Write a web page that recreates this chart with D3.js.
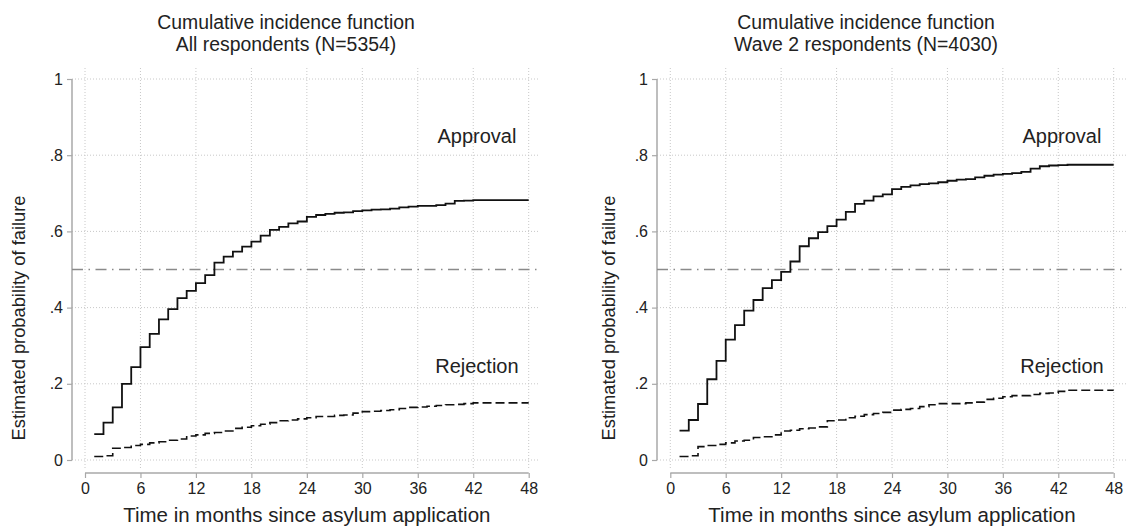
<!DOCTYPE html>
<html>
<head>
<meta charset="utf-8">
<script src="https://cdn.jsdelivr.net/npm/d3@7"></script>
<style>
  body { margin: 0; background: #fff; }
  svg text { font-family: "Liberation Sans", Arial, Helvetica, sans-serif; fill: #222; }
</style>
</head>
<body>
<svg id="chart" width="1127" height="527"></svg>
<script>
// months since application (steps)
const months = d3.range(1, 49);
const xTicks = [0, 6, 12, 18, 24, 30, 36, 42, 48];
const yTicks = [0, 0.2, 0.4, 0.6, 0.8, 1];
const yTickLabels = ["0", ".2", ".4", ".6", ".8", "1"];

// All respondents (N=5354)
const approvalAll = [0.068, 0.098, 0.138, 0.200, 0.244, 0.296, 0.331, 0.369, 0.396, 0.425,
  0.444, 0.464, 0.485, 0.518, 0.534, 0.547, 0.560, 0.573, 0.589, 0.604,
  0.612, 0.621, 0.626, 0.638, 0.643, 0.646, 0.649, 0.650, 0.653, 0.655,
  0.657, 0.658, 0.660, 0.663, 0.665, 0.667, 0.667, 0.669, 0.673, 0.680,
  0.681, 0.682, 0.682, 0.682, 0.682, 0.682, 0.682, 0.682];
const rejectionAll = [0.009, 0.011, 0.031, 0.033, 0.038, 0.041, 0.045, 0.048, 0.052, 0.055,
  0.063, 0.066, 0.070, 0.072, 0.076, 0.083, 0.086, 0.090, 0.094, 0.098,
  0.103, 0.105, 0.108, 0.111, 0.114, 0.114, 0.117, 0.118, 0.123, 0.127,
  0.128, 0.130, 0.132, 0.135, 0.138, 0.139, 0.141, 0.143, 0.145, 0.146,
  0.148, 0.150, 0.150, 0.150, 0.150, 0.150, 0.150, 0.150];

// Wave 2 respondents (N=4030)
const approvalW2 = [0.077, 0.105, 0.147, 0.212, 0.260, 0.316, 0.354, 0.392, 0.420, 0.451,
  0.472, 0.494, 0.521, 0.561, 0.582, 0.598, 0.614, 0.631, 0.651, 0.672,
  0.681, 0.692, 0.697, 0.711, 0.717, 0.721, 0.724, 0.726, 0.729, 0.733,
  0.736, 0.737, 0.742, 0.746, 0.749, 0.751, 0.753, 0.756, 0.765, 0.771,
  0.773, 0.774, 0.775, 0.775, 0.775, 0.775, 0.775, 0.775];
const rejectionW2 = [0.009, 0.011, 0.035, 0.038, 0.041, 0.045, 0.050, 0.052, 0.059, 0.061,
  0.066, 0.076, 0.078, 0.082, 0.084, 0.087, 0.103, 0.105, 0.111, 0.115,
  0.119, 0.122, 0.125, 0.131, 0.133, 0.135, 0.140, 0.145, 0.148, 0.148,
  0.148, 0.150, 0.152, 0.159, 0.162, 0.166, 0.169, 0.169, 0.172, 0.175,
  0.176, 0.180, 0.183, 0.183, 0.183, 0.183, 0.183, 0.183];

const svg = d3.select("#chart");

const panels = [
  {title: "Cumulative incidence function", sub: "All respondents (N=5354)",
   approval: approvalAll, rejection: rejectionAll,
   axisX: 72, x0: 85, x1: 528.7, right: 540, titleX: 286, yTitleX: 19},
  {title: "Cumulative incidence function", sub: "Wave 2 respondents (N=4030)",
   approval: approvalW2, rejection: rejectionW2,
   axisX: 657, x0: 670.3, x1: 1113.7, right: 1126, titleX: 866, yTitleX: 609}
];

panels.forEach(p => {
  const x = d3.scaleLinear().domain([0, 48]).range([p.x0, p.x1]);
  const y = d3.scaleLinear().domain([0, 1]).range([460, 79]);
  const g = svg.append("g");
  const axisY = 473;

  // grid
  g.selectAll(".vgrid").data(xTicks).join("line")
    .attr("x1", d => x(d)).attr("x2", d => x(d))
    .attr("y1", 68).attr("y2", 470)
    .attr("stroke", "#c8c8c8").attr("stroke-width", 1).attr("stroke-dasharray", "1,2");
  g.selectAll(".hgrid").data(yTicks).join("line")
    .attr("x1", p.axisX).attr("x2", p.right)
    .attr("y1", d => y(d)).attr("y2", d => y(d))
    .attr("stroke", "#c8c8c8").attr("stroke-width", 1).attr("stroke-dasharray", "1,2");

  // y axis
  const yAxis = d3.axisLeft(y).tickValues(yTicks)
    .tickFormat((d, i) => yTickLabels[i]).tickSize(5).tickPadding(4);
  const ya = g.append("g").attr("transform", `translate(${p.axisX},0)`).call(yAxis);
  ya.select(".domain").attr("d", `M0,${y(1)}V${y(0)}`);

  // x axis
  const xAxis = d3.axisBottom(x).tickValues(xTicks).tickSize(5).tickPadding(5);
  const xa = g.append("g").attr("transform", `translate(0,${axisY})`).call(xAxis);
  xa.select(".domain").attr("d", `M${x(0)},0H${x(48)}`);

  [ya, xa].forEach(a => {
    a.select(".domain").attr("stroke", "#a8a8a8").attr("stroke-width", 1.5);
    a.selectAll(".tick line").attr("stroke", "#a8a8a8").attr("stroke-width", 1.2);
    a.selectAll(".tick text").attr("font-size", 16).attr("fill", "#222")
      .attr("font-family", "Liberation Sans, Arial, sans-serif");
  });

  // 0.5 reference line
  g.append("line")
    .attr("x1", p.axisX).attr("x2", p.right)
    .attr("y1", y(0.5)).attr("y2", y(0.5))
    .attr("stroke", "#8a8a8a").attr("stroke-width", 1.4)
    .attr("stroke-dasharray", "11,5.5,1.5,5.5");

  const line = d3.line().x((d, i) => x(months[i])).y(d => y(d)).curve(d3.curveStepAfter);

  g.append("path").datum(p.approval)
    .attr("d", line).attr("fill", "none")
    .attr("stroke", "#111").attr("stroke-width", 1.8);
  g.append("path").datum(p.rejection)
    .attr("d", line).attr("fill", "none")
    .attr("stroke", "#111").attr("stroke-width", 1.6).attr("stroke-dasharray", "9,4");

  // labels
  g.append("text").attr("x", x(42.4)).attr("y", 143).attr("text-anchor", "middle")
    .attr("font-size", 20).text("Approval");
  g.append("text").attr("x", x(42.4)).attr("y", 373).attr("text-anchor", "middle")
    .attr("font-size", 20).text("Rejection");

  // titles
  g.append("text").attr("x", p.titleX).attr("y", 29).attr("text-anchor", "middle")
    .attr("font-size", 19.4).text(p.title);
  g.append("text").attr("x", p.titleX).attr("y", 51).attr("text-anchor", "middle")
    .attr("font-size", 19.4).text(p.sub);

  g.append("text").attr("x", (p.x0 + p.x1) / 2).attr("y", 522).attr("text-anchor", "middle")
    .attr("font-size", 20.5).text("Time in months since asylum application");
  g.append("text")
    .attr("transform", `translate(${p.yTitleX + 6},318) rotate(-90)`)
    .attr("text-anchor", "middle")
    .attr("font-size", 18.3).text("Estimated probability of failure");
});
</script>
</body>
</html>
